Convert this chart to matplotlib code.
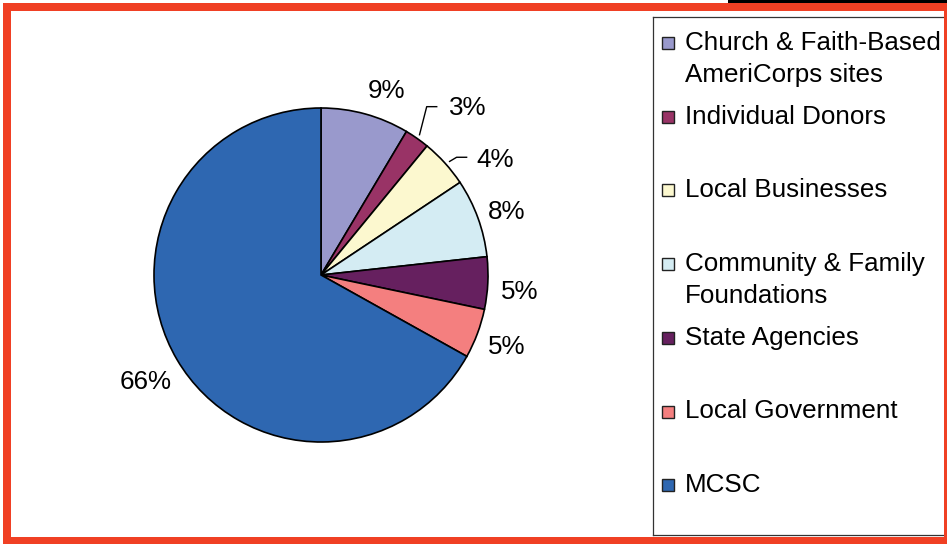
"""Funding sources pie with a boxed legend on the right, inside a red frame."""
import matplotlib

matplotlib.use("Agg")
import matplotlib.pyplot as plt
from matplotlib.patches import Rectangle

plt.rcParams["font.family"] = ["Liberation Sans", "DejaVu Sans"]

# data, clockwise from 12 o'clock
SOURCES = [
    "Church & Faith-Based\nAmeriCorps sites",
    "Individual Donors",
    "Local Businesses",
    "Community & Family\nFoundations",
    "State Agencies",
    "Local Government",
    "MCSC",
]
SHARES = [8.55, 2.4, 4.7, 7.6, 5.05, 4.8, 66.9]
PCT_LABELS = ["9%", "3%", "4%", "8%", "5%", "5%", "66%"]
COLORS = ["#9999CC", "#993366", "#FCF8CF", "#D4ECF3", "#66205F", "#F47F7F", "#2E67B1"]

# label placement (pie radius = 1)
LABEL_XY = [(0.39, 1.10), (0.88, 1.0), (1.04, 0.69), (1.11, 0.38),
            (1.19, -0.10), (1.11, -0.43), (-1.05, -0.64)]
LEADERS = {1: [(0.59, 0.84), (0.633, 1.008), (0.693, 1.008)],
           2: [(0.77, 0.68), (0.812, 0.705), (0.872, 0.705)]}
FS = 18.7

W, H = 947, 544
fig = plt.figure(figsize=(W / 100, H / 100), dpi=100)
fig.patch.set_facecolor("white")


def fx(px):
    return px / W


def fy(py):
    return 1 - py / H


# pie: centre (321, 275) px, radius 167 px
cx, cy, r = 321, 275, 167
ax = fig.add_axes([fx(cx - r), fy(cy + r), 2 * r / W, 2 * r / H])
wedges, _ = ax.pie(SHARES, colors=COLORS, startangle=90, counterclock=False,
                   wedgeprops=dict(edgecolor="black", linewidth=1.2))
for w in wedges:
    w.set_clip_on(False)
ax.set_xlim(-1, 1)
ax.set_ylim(-1, 1)
ax.set_aspect("auto")
ax.axis("off")

for lab, (x, y) in zip(PCT_LABELS, LABEL_XY):
    ax.text(x, y, lab, ha="center", va="center", fontsize=FS, color="black")
for pts in LEADERS.values():
    xs, ys = zip(*pts)
    ax.plot(xs, ys, color="black", lw=1.0, clip_on=False)

# legend box
lx0, ly0, lx1, ly1 = 653, 17, 945, 535
lax = fig.add_axes([fx(lx0), fy(ly1), (lx1 - lx0) / W, (ly1 - ly0) / H])
lax.set_xlim(0, lx1 - lx0)
lax.set_ylim(ly1 - ly0, 0)
lax.set_xticks([])
lax.set_yticks([])
for s in lax.spines.values():
    s.set_color("#333333")
    s.set_linewidth(0.9)

first_y, step, line_h = 26, 73.7, 32
for i, (name, col) in enumerate(zip(SOURCES, COLORS)):
    y = first_y + i * step
    lax.add_patch(Rectangle((9, y - 6), 12, 12, facecolor=col,
                            edgecolor="#222222", lw=1))
    for k, line in enumerate(name.split("\n")):
        lax.text(32, y + k * line_h, line, ha="left", va="center",
                 fontsize=FS, color="black")

# red frame + black strip at top right
red = "#F04024"
for x0, y0, x1, y1 in [(3, 3, 947, 11), (3, 3, 11, 544),
                       (3, 537, 947, 544), (944, 3, 947, 544)]:
    fig.patches.append(Rectangle((fx(x0), fy(y1)), fx(x1 - x0), (y1 - y0) / H,
                                 transform=fig.transFigure, facecolor=red,
                                 edgecolor="none", zorder=5))
fig.patches.append(Rectangle((fx(728), fy(3)), fx(947 - 728), 3 / H,
                             transform=fig.transFigure, facecolor="black",
                             edgecolor="none", zorder=5))

fig.savefig("out.png", dpi=100)
